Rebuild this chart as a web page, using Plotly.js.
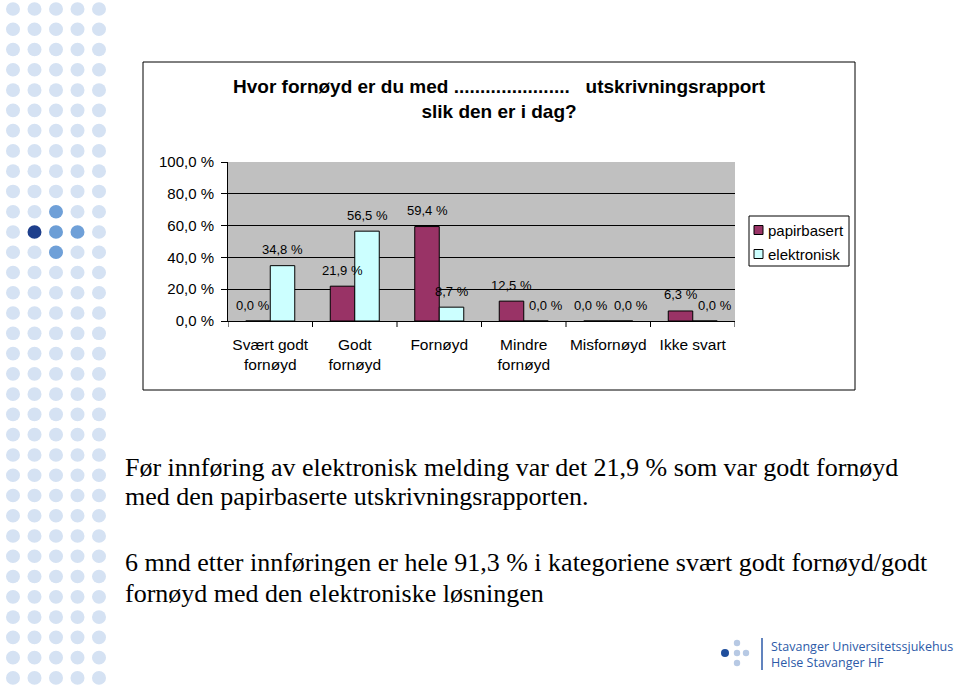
<!DOCTYPE html>
<html>
<head>
<meta charset="utf-8">
<script src="https://cdn.plot.ly/plotly-3.0.1.min.js"></script>
<style>
  body { margin: 0; background: #ffffff; }
  #plot { width: 960px; height: 687px; }
</style>
</head>
<body>
<div id="plot"></div>
<script>
// Survey data (percent)
const categories = ["Svært godt fornøyd", "Godt fornøyd", "Fornøyd", "Mindre fornøyd", "Misfornøyd", "Ikke svart"];
const tickLabels = ["Svært godt<br>fornøyd", "Godt<br>fornøyd", "Fornøyd", "Mindre<br>fornøyd", "Misfornøyd", "Ikke svart"];
const papirbasert = [0, 21.9, 59.4, 12.5, 0, 6.3];
const elektronisk = [34.8, 56.5, 8.7, 0, 0, 0];
const yTicks = [0, 20, 40, 60, 80, 100];

const bodyLines = [
  "Før innføring av elektronisk melding var det 21,9 % som var godt fornøyd",
  "med den papirbaserte utskrivningsrapporten.",
  "6 mnd etter innføringen er hele 91,3 % i kategoriene svært godt fornøyd/godt",
  "fornøyd med den elektroniske løsningen",
];

// plot area in page pixels, used to place decorations in paper coords
const L = 228, R = 735, T = 162, B = 321;
const W = R - L, H = B - T;
const X = (px) => (px - L) / W;
const Y = (py) => (B - py) / H;

const fmt = (v) => v.toFixed(1).replace(".", ",") + " %";
const idx = categories.map((_, i) => i);
const barW = 0.29;

const series = [
  { name: "papirbasert", values: papirbasert, color: "#993366", offset: -barW, zeroShift: -5 },
  { name: "elektronisk", values: elektronisk, color: "#ccffff", offset: 0, zeroShift: 10 },
];

const traces = series.map((s) => ({
  x: idx,
  y: s.values,
  name: s.name,
  type: "bar",
  width: barW,
  offset: s.offset,
  marker: { color: s.color, line: { color: "#000000", width: 1 } },
  hoverinfo: "skip",
}));

// value labels above each bar (zero labels sit a bit to the side, like Excel does)
const annotations = [];
series.forEach((s) => {
  s.values.forEach((v, i) => {
    annotations.push({
      x: i + s.offset + barW / 2, y: v, xref: "x", yref: "y",
      text: fmt(v), showarrow: false, yshift: 16, yanchor: "middle",
      xshift: v === 0 ? s.zeroShift : 0,
      font: { size: 13, color: "#000000" },
    });
  });
});

// chart title
annotations.push({
  xref: "paper", yref: "paper", x: X(499.5), y: Y(99),
  xanchor: "center", yanchor: "middle", showarrow: false,
  text: "<b>Hvor fornøyd er du med ......................\u00a0\u00a0 utskrivningsrapport<br>slik den er i dag?</b>",
  font: { size: 19, color: "#000000" },
});

// slide text
const lineY = [467, 497, 562, 593];
bodyLines.forEach((t, i) => {
  annotations.push({
    xref: "paper", yref: "paper", x: X(123), y: Y(lineY[i]),
    xanchor: "left", yanchor: "middle", showarrow: false, text: t,
    font: { family: "Liberation Serif, Times New Roman, serif", size: 26, color: "#000000" },
  });
});

// logo text
annotations.push({
  xref: "paper", yref: "paper", x: X(769), y: Y(654),
  xanchor: "left", yanchor: "middle", showarrow: false, align: "left",
  text: "Stavanger Universitetssjukehus<br>Helse Stavanger HF",
  font: { family: "Open Sans, Noto Sans, sans-serif", size: 12.5, color: "#2c5aa8" },
});

const shapes = [];
// chart frame
shapes.push({
  type: "rect", xref: "paper", yref: "paper",
  x0: X(143), x1: X(855), y0: Y(62), y1: Y(390),
  line: { color: "#000000", width: 1 }, layer: "below",
});

// hide the gridline at 100 % (top edge has none in the original)
shapes.push({
  type: "line", xref: "paper", yref: "y",
  x0: 0, x1: 1, y0: 100, y1: 100,
  line: { color: "#c0c0c0", width: 2 }, layer: "between",
});

// tick marks at category boundaries
for (let i = 0; i <= categories.length; i++) {
  shapes.push({
    type: "line", xref: "x", yref: "paper",
    x0: i - 0.5, x1: i - 0.5, y0: 0, y1: Y(B + 6),
    line: { color: "#000000", width: 1 },
  });
}

// legend box, drawn like the Excel one
shapes.push({
  type: "rect", xref: "paper", yref: "paper",
  x0: X(749), x1: X(849), y0: Y(216), y1: Y(266),
  fillcolor: "#ffffff", line: { color: "#000000", width: 1 },
});
series.forEach((s, k) => {
  const cy = 230 + k * 24;
  shapes.push({
    type: "rect", xref: "paper", yref: "paper",
    x0: X(754), x1: X(763), y0: Y(cy - 4.5), y1: Y(cy + 4.5),
    fillcolor: s.color, line: { color: "#000000", width: 1 },
  });
  annotations.push({
    xref: "paper", yref: "paper", x: X(766), y: Y(cy),
    xanchor: "left", yanchor: "middle", showarrow: false,
    text: s.name, font: { size: 15, color: "#000000" },
  });
});

// dotted pattern on the left edge
const dotCols = 5, dotRows = 34;
const accent = { "10,2": "#6fa0d8", "11,1": "#1e3f8c", "11,2": "#6c9ed6", "11,3": "#6fa0d8", "12,2": "#6fa0d8" };
for (let r = 0; r < dotRows; r++) {
  for (let c = 0; c < dotCols; c++) {
    const cx = 13 + c * 21.5, cy = 9 + r * 20.27;
    const col = accent[r + "," + c] || "#d5e2f3";
    shapes.push({
      type: "circle", xref: "paper", yref: "paper",
      x0: X(cx - 7), x1: X(cx + 7), y0: Y(cy - 6.8), y1: Y(cy + 6.8),
      fillcolor: col, line: { width: 0 },
    });
  }
}

// logo mark
const logoDots = [[725, 653, 4, "#1f4e9c"], [737, 643, 3.2, "#b7c9e4"], [737, 653, 3.2, "#b7c9e4"], [746, 653, 3.2, "#b7c9e4"], [737, 663, 3.2, "#b7c9e4"]];
logoDots.forEach(([cx, cy, rr, col]) => {
  shapes.push({
    type: "circle", xref: "paper", yref: "paper",
    x0: X(cx - rr), x1: X(cx + rr), y0: Y(cy - rr), y1: Y(cy + rr),
    fillcolor: col, line: { width: 0 },
  });
});
shapes.push({
  type: "line", xref: "paper", yref: "paper",
  x0: X(762), x1: X(762), y0: Y(638), y1: Y(670),
  line: { color: "#2c5aa8", width: 1.5 },
});

const layout = {
  width: 960,
  height: 687,
  margin: { l: L, r: 960 - R, t: T, b: 687 - B, pad: 0 },
  font: { family: "Liberation Sans, Arial, sans-serif", color: "#000000" },
  paper_bgcolor: "#ffffff",
  plot_bgcolor: "#c0c0c0",
  bargap: 0,
  showlegend: false,
  xaxis: {
    type: "linear",
    range: [-0.5, categories.length - 0.5],
    tickmode: "array",
    tickvals: idx,
    ticktext: tickLabels,
    ticks: "",
    ticklabelstandoff: 9,
    showgrid: false,
    zeroline: false,
    showline: true,
    linecolor: "#000000",
    tickfont: { size: 15.5 },
    fixedrange: true,
  },
  yaxis: {
    range: [0, 100],
    tickmode: "array",
    tickvals: yTicks,
    ticktext: yTicks.map(fmt),
    ticks: "outside",
    ticklen: 6,
    tickcolor: "#000000",
    ticklabelstandoff: 4,
    showgrid: true,
    gridcolor: "#000000",
    gridwidth: 1,
    zeroline: false,
    showline: true,
    linecolor: "#000000",
    tickfont: { size: 15 },
    fixedrange: true,
  },
  annotations: annotations,
  shapes: shapes,
};

Plotly.newPlot("plot", traces, layout, { displayModeBar: false, staticPlot: true });
</script>
</body>
</html>
